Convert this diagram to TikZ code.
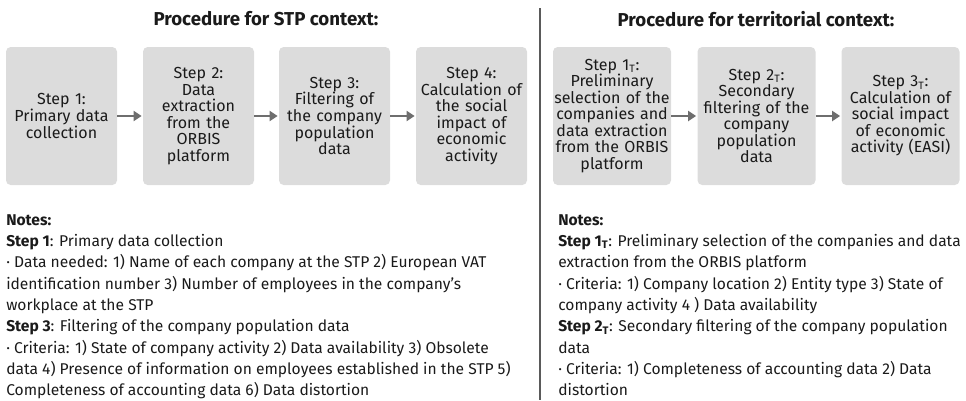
\documentclass[tikz,border=0pt]{standalone}
\usepackage{fontspec}
\setmainfont{Fira Sans}
\usetikzlibrary{arrows.meta}
\definecolor{boxgray}{HTML}{DCDCDC}
\definecolor{arrgray}{HTML}{6E6E6E}
\definecolor{linegray}{HTML}{5A5A5A}
\definecolor{txt}{HTML}{1A1A1A}
\newcommand{\subT}{\textsubscript{T}}
\tikzset{
  stepbox/.style={fill=boxgray, rounded corners=3.5pt, minimum height=103.5pt, align=center, inner sep=0pt, text=txt, font=\fontsize{12pt}{12.4pt}\selectfont},
  leftbox/.style={stepbox, minimum width=83.25pt, text width=82pt},
  rightbox/.style={stepbox, minimum width=88.5pt, text width=88pt},
  flow/.style={-{Triangle[length=6pt,width=7.5pt]}, arrgray, line width=2pt, shorten >=0.8pt},
  titletext/.style={font=\fontsize{14pt}{16pt}\selectfont\bfseries, text=txt, inner sep=0pt},
  notes/.style={anchor=north west, align=left, inner sep=0pt, text=txt, font=\fontsize{11.7pt}{16pt}\selectfont},
}
\begin{document}
\begin{tikzpicture}[x=0.75pt,y=-0.75pt]
\useasboundingbox (0,0) rectangle (966,400);
% titles
\node[titletext] (t1) at (266,19) {Procedure for STP context:};
\node[titletext] (t2) at (756,19) {Procedure for territorial context:};
% divider
\coordinate (dtop) at (540,8);
\coordinate (dbot) at (540,400);
\draw[linegray, line width=1.1pt] (dtop) -- (dbot);
% left boxes
\node[leftbox] (s1) at (61.5,116) {Step 1:\\Primary data\\collection};
\node[leftbox] (s2) at (198.5,116) {Step 2:\\Data\\extraction\\from the\\ORBIS\\platform};
\node[leftbox] (s3) at (334.5,116) {Step 3:\\Filtering of\\the company\\population\\data};
\node[leftbox] (s4) at (471.5,116) {Step 4:\\Calculation of\\the social\\impact of\\economic\\activity};
\draw[flow] (s1) -- (s2);
\draw[flow] (s2) -- (s3);
\draw[flow] (s3) -- (s4);
% right boxes
\node[rightbox] (r1) at (612,116) {Step 1\subT:\\Preliminary\\selection of the\\companies and\\data extraction\\from the ORBIS\\platform};
\node[rightbox] (r2) at (756.5,116) {Step 2\subT:\\Secondary\\filtering of the\\company\\population\\data};
\node[rightbox] (r3) at (900.5,116) {Step 3\subT:\\Calculation of\\social impact\\of economic\\activity (EASI)};
\draw[flow] (r1) -- (r2);
\draw[flow] (r2) -- (r3);
% notes
\node[notes] (n1) at (6,214) {\textbf{Notes:}\\
\textbf{Step 1}: Primary data collection\\
· Data needed: 1) Name of each company at the STP 2) European VAT\\
identification number 3) Number of employees in the company's\\
workplace at the STP\\
\textbf{Step 3}: Filtering of the company population data\\
· Criteria: 1) State of company activity 2) Data availability 3) Obsolete\\
data 4) Presence of information on employees established in the STP 5)\\
Completeness of accounting data 6) Data distortion};
\node[notes] (n2) at (558,214) {\textbf{Notes:}\\
\textbf{Step 1\subT}: Preliminary selection of the companies and data\\
extraction from the ORBIS platform\\
· Criteria: 1) Company location 2) Entity type 3) State of\\
company activity 4 ) Data availability\\
\textbf{Step 2\subT}: Secondary filtering of the company population\\
data\\
· Criteria: 1) Completeness of accounting data 2) Data\\
distortion};
\end{tikzpicture}
\end{document}
